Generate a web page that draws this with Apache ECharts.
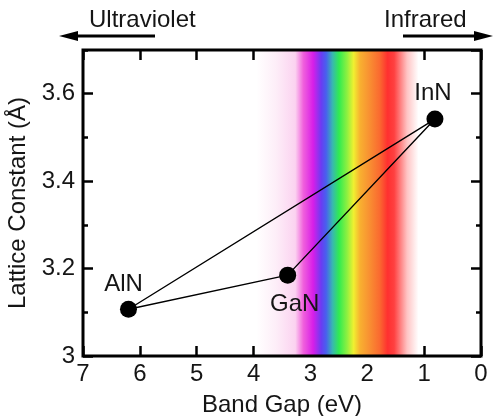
<!DOCTYPE html>
<html>
<head>
<meta charset="utf-8">
<script src="https://cdn.jsdelivr.net/npm/echarts@6/dist/echarts.min.js"></script>
<style>
html,body{margin:0;padding:0;background:#fff;}
#chart{width:493px;height:416px;}
</style>
</head>
<body>
<div id="chart"></div>
<script>
// ---- data ----
const materials = ['AlN', 'GaN', 'InN'];
const bandGap = [6.2, 3.4, 0.81];          // eV
const latticeConstant = [3.107, 3.185, 3.542]; // Å
const xTickValues = [0, 1, 2, 3, 4, 5, 6, 7];
const yTickLabels = ['3', '3.2', '3.4', '3.6'];
const spectrumRange = [3.95, 1.1]; // eV, visible band

// ---- build ----
const FONT = 'Arial, "Liberation Sans", Helvetica, sans-serif';
const TXT = '#151515';
const FS = 24;
const chart = echarts.init(document.getElementById('chart'), null, {renderer: 'canvas'});

const points = materials.map((m, i) => [bandGap[i], latticeConstant[i]]);
const triangle = [0, 1, 2, 0].map(i => [bandGap[i], latticeConstant[i]]);

const labelCfg = {
  AlN: {position: 'top', distance: 4, offset: [-5, 0]},
  GaN: {position: 'bottom', distance: 9, offset: [7, 0]},
  InN: {position: 'top', distance: 5, offset: [-2, 0]}
};

const spectrumGradient = new echarts.graphic.LinearGradient(0, 0, 1, 0, [
  {offset: 0.00, color: '#ffffff'},
  {offset: 0.12, color: '#fdeef8'},
  {offset: 0.24, color: '#fbd2f0'},
  {offset: 0.29, color: '#f060dc'},
  {offset: 0.35, color: '#d81ee8'},
  {offset: 0.40, color: '#6a3cf2'},
  {offset: 0.43, color: '#4860ee'},
  {offset: 0.47, color: '#38b8b0'},
  {offset: 0.51, color: '#30ec50'},
  {offset: 0.56, color: '#90f040'},
  {offset: 0.60, color: '#f0f030'},
  {offset: 0.64, color: '#f8b030'},
  {offset: 0.69, color: '#f89432'},
  {offset: 0.76, color: '#fa6a30'},
  {offset: 0.81, color: '#ff3030'},
  {offset: 0.85, color: '#ff4040'},
  {offset: 0.93, color: '#ffc4c4'},
  {offset: 1.00, color: '#ffffff'}
]);

const majorTickY = {show: true, inside: true, length: 10, lineStyle: {color: '#000', width: 2.5}};
const minorTickY = {show: true, inside: true, length: 5, lineStyle: {color: '#000', width: 2.5}};

const baseY = {
  type: 'value', min: 3, max: 3.7,
  splitLine: {show: false},
  axisLine: {show: false, onZero: false}
};

chart.setOption({
  animation: false,
  backgroundColor: '#fff',
  grid: {left: 83, right: 12, top: 50, bottom: 60, show: true, outerBoundsMode: 'none',
         containLabel: false,
         borderColor: '#000', borderWidth: 3, backgroundColor: 'transparent', z: 10},
  xAxis: [
    {
      type: 'value', position: 'bottom', min: 0, max: 7, interval: 1, inverse: true,
      splitLine: {show: false},
      axisLine: {show: false, onZero: false},
      axisTick: {show: true, inside: true, length: 10, lineStyle: {color: '#000', width: 2.5}},
      axisLabel: {show: true, margin: 6, fontSize: FS, fontFamily: FONT, color: TXT,
        showMinLabel: true, showMaxLabel: true,
        formatter: v => xTickValues.includes(Math.round(v)) ? String(Math.round(v)) : ''},
      name: 'Band Gap (eV)', nameLocation: 'middle', nameGap: 37,
      nameTextStyle: {fontSize: FS, fontFamily: FONT, color: TXT}
    },
    {
      type: 'value', position: 'top', min: 0, max: 7, interval: 1, inverse: true,
      splitLine: {show: false},
      axisLine: {show: false, onZero: false},
      axisTick: {show: true, inside: true, length: 10, lineStyle: {color: '#000', width: 2.5}},
      axisLabel: {show: false}
    }
  ],
  yAxis: [
    Object.assign({}, baseY, {
      position: 'left', interval: 0.2,
      axisTick: majorTickY,
      axisLabel: {show: true, margin: 8, fontSize: FS, fontFamily: FONT, color: TXT,
        showMaxLabel: false,
        formatter: v => {
          const s = String(Math.round(v * 10) / 10);
          return yTickLabels.includes(s) ? s : '';
        }},
      name: 'Lattice Constant (Å)', nameLocation: 'middle', nameGap: 46,
      nameTextStyle: {fontSize: FS, fontFamily: FONT, color: TXT}
    }),
    Object.assign({}, baseY, {
      position: 'right', interval: 0.2, axisTick: majorTickY, axisLabel: {show: false}
    }),
    Object.assign({}, baseY, {
      position: 'left', interval: 0.1, axisTick: minorTickY, axisLabel: {show: false}
    }),
    Object.assign({}, baseY, {
      position: 'right', interval: 0.1, axisTick: minorTickY, axisLabel: {show: false}
    })
  ],
  series: [
    {
      type: 'line', xAxisIndex: 0, yAxisIndex: 0, z: 3,
      data: triangle, showSymbol: false, symbol: 'none',
      lineStyle: {color: '#000', width: 1.4},
      markArea: {
        silent: true,
        itemStyle: {color: spectrumGradient, opacity: 1, borderWidth: 0},
        data: [[{xAxis: spectrumRange[0]}, {xAxis: spectrumRange[1]}]]
      }
    },
    {
      type: 'scatter', xAxisIndex: 0, yAxisIndex: 0, z: 4,
      symbol: 'circle', symbolSize: 17,
      itemStyle: {color: '#000', opacity: 1},
      data: points.map((p, i) => ({
        value: p, name: materials[i],
        label: Object.assign({show: true, formatter: materials[i], fontSize: FS,
          fontFamily: FONT, color: TXT, opacity: 1}, labelCfg[materials[i]])
      }))
    }
  ],
  graphic: [
    {type: 'text', left: 89, top: 8, style: {text: 'Ultraviolet', fontSize: FS, fontFamily: FONT, fill: TXT}},
    {type: 'line', shape: {x1: 74, y1: 36, x2: 155, y2: 36}, style: {stroke: '#000', lineWidth: 3}},
    {type: 'polygon', shape: {points: [[59, 36], [78, 31], [78, 41]]}, style: {fill: '#000'}},
    {type: 'text', left: 384, top: 8, style: {text: 'Infrared', fontSize: FS, fontFamily: FONT, fill: TXT}},
    {type: 'line', shape: {x1: 403, y1: 36, x2: 478, y2: 36}, style: {stroke: '#000', lineWidth: 3}},
    {type: 'polygon', shape: {points: [[493, 36], [474, 31], [474, 41]]}, style: {fill: '#000'}}
  ]
});
</script>
</body>
</html>
